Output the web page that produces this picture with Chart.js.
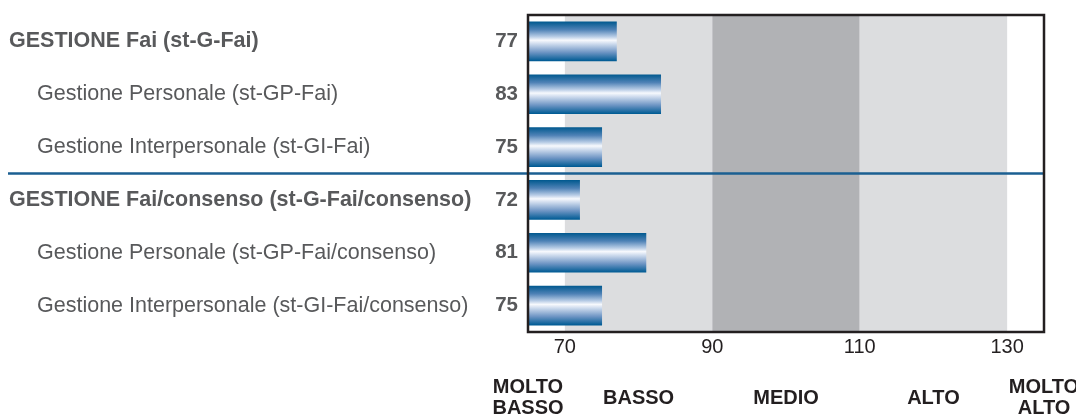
<!DOCTYPE html>
<html>
<head>
<meta charset="utf-8">
<script src="https://cdn.jsdelivr.net/npm/chart.js@4.4.0/dist/chart.umd.min.js"></script>
<style>
  html, body { margin: 0; padding: 0; background: #fff; }
  #box { width: 1076px; height: 416px; }
</style>
</head>
<body>
<div id="box"><canvas id="grafico"></canvas></div>
<script>
// dati
const categorie = [
  "GESTIONE Fai (st-G-Fai)",
  "Gestione Personale (st-GP-Fai)",
  "Gestione Interpersonale (st-GI-Fai)",
  "GESTIONE Fai/consenso (st-G-Fai/consenso)",
  "Gestione Personale (st-GP-Fai/consenso)",
  "Gestione Interpersonale (st-GI-Fai/consenso)"
];
const livelli = [0, 1, 1, 0, 1, 1];
const punteggi = [77, 83, 75, 72, 81, 75];
const tickX = [70, 90, 110, 130];
const fasce = [[70, 90], [90, 110], [110, 130]];
const fasceLabel = [["MOLTO", "BASSO"], ["BASSO"], ["MEDIO"], ["ALTO"], ["MOLTO", "ALTO"]];
const fasceCentro = [65, 80, 100, 120, 135];
const minX = 65, maxX = 135;

const grigio = "#58595b";
const nero = "#231f20";

function sfumatura(context) {
  const chart = context.chart;
  const ctx = chart.ctx;
  if (!chart.chartArea) return "#1b6aa0";
  const y = chart.scales.y.getPixelForValue(context.dataIndex);
  const h = 39;
  const g = ctx.createLinearGradient(0, y - h / 2, 0, y + h / 2);
  g.addColorStop(0, "#035a90");
  g.addColorStop(0.2, "#4f82b6");
  g.addColorStop(0.38, "#b9cde6");
  g.addColorStop(0.47, "#f7f9fd");
  g.addColorStop(0.56, "#cfdcee");
  g.addColorStop(0.78, "#6e95c4");
  g.addColorStop(1, "#005b94");
  return g;
}

const sfondo = {
  id: "sfondo",
  beforeDatasetsDraw(chart) {
    const ctx = chart.ctx;
    const a = chart.chartArea;
    const x = chart.scales.x;
    ctx.save();
    fasce.forEach((f, i) => {
      ctx.fillStyle = i === 1 ? "#b1b2b5" : "#dcdddf";
      const x0 = x.getPixelForValue(f[0]);
      const x1 = x.getPixelForValue(f[1]);
      ctx.fillRect(x0, a.top, x1 - x0, a.bottom - a.top);
    });
    ctx.restore();
  },
  afterDraw(chart) {
    const ctx = chart.ctx;
    const a = chart.chartArea;
    const x = chart.scales.x;
    const y = chart.scales.y;
    ctx.save();

    // linea di separazione
    const ySep = y.getPixelForValue(2.5);
    ctx.strokeStyle = "#1b5f92";
    ctx.lineWidth = 2.5;
    ctx.beginPath();
    ctx.moveTo(8, ySep);
    ctx.lineTo(a.right, ySep);
    ctx.stroke();

    // cornice
    ctx.strokeStyle = nero;
    ctx.lineWidth = 2.5;
    ctx.strokeRect(a.left, a.top, a.right - a.left, a.bottom - a.top);

    // etichette a sinistra e valori
    ctx.textBaseline = "middle";
    categorie.forEach((c, i) => {
      const yy = y.getPixelForValue(i);
      ctx.fillStyle = grigio;
      ctx.font = (livelli[i] === 0 ? "bold " : "") + "21.5px 'Liberation Sans', Arial, sans-serif";
      ctx.textAlign = "left";
      ctx.fillText(c, livelli[i] === 0 ? 9 : 37, yy);
      ctx.font = "bold 20.5px 'Liberation Sans', Arial, sans-serif";
      ctx.textAlign = "right";
      ctx.fillText(punteggi[i], 518, yy);
    });

    // fasce in basso
    ctx.fillStyle = nero;
    ctx.textAlign = "center";
    ctx.font = "bold 20px 'Liberation Sans', Arial, sans-serif";
    fasceLabel.forEach((righe, i) => {
      const xx = x.getPixelForValue(fasceCentro[i]);
      if (righe.length === 1) {
        ctx.fillText(righe[0], xx, 398);
      } else {
        ctx.fillText(righe[0], xx, 387);
        ctx.fillText(righe[1], xx, 408);
      }
    });
    ctx.restore();
  }
};

new Chart(document.getElementById("grafico"), {
  type: "bar",
  data: {
    labels: categorie,
    datasets: [{
      data: punteggi,
      base: minX,
      backgroundColor: sfumatura,
      borderWidth: 0,
      barThickness: 39
    }]
  },
  options: {
    indexAxis: "y",
    responsive: true,
    maintainAspectRatio: false,
    animation: false,
    layout: { padding: { left: 528, right: 32, top: 15, bottom: 54 } },
    plugins: { legend: { display: false }, tooltip: { enabled: false } },
    scales: {
      x: {
        min: minX,
        max: maxX,
        afterBuildTicks: (axis) => { axis.ticks = tickX.map(v => ({ value: v })); },
        afterFit: (axis) => { axis.height = 30; },
        grid: { display: false, drawTicks: false },
        border: { display: false },
        ticks: {
          color: nero,
          padding: 3,
          autoSkip: false,
          maxRotation: 0,
          font: { family: "'Liberation Sans', Arial, sans-serif", size: 20 }
        }
      },
      y: {
        display: false
      }
    }
  },
  plugins: [sfondo]
});
</script>
</body>
</html>
